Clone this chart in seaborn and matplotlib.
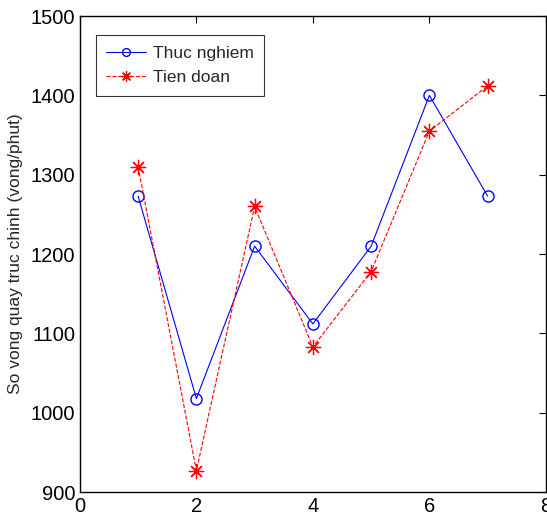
import numpy as np
import pandas as pd
import matplotlib
matplotlib.use("Agg")
import matplotlib.pyplot as plt
import seaborn as sns

x_vals = [1, 2, 3, 4, 5, 6, 7]
thuc_nghiem = [1273, 1018, 1210, 1112, 1210, 1400, 1273]
tien_doan = [1310, 927, 1260, 1083, 1178, 1355, 1412]
x_ticks = [0, 2, 4, 6, 8]
y_ticks = [900, 1000, 1100, 1200, 1300, 1400, 1500]

sns.set_style("white")
plt.rcParams['font.family'] = ['Liberation Sans', 'DejaVu Sans']

df = pd.DataFrame({'x': x_vals, 'Thuc nghiem': thuc_nghiem, 'Tien doan': tien_doan})

fig = plt.figure(figsize=(5.47, 5.17), dpi=100)
ax = fig.add_axes([0.146, 0.048, 0.852, 0.921])

sns.lineplot(data=df, x='x', y='Thuc nghiem', ax=ax, color='blue', linewidth=0.8,
             marker='o', markersize=8, markerfacecolor='none', markeredgecolor='blue',
             markeredgewidth=1.0, label='Thuc nghiem')
sns.lineplot(data=df, x='x', y='Tien doan', ax=ax, color='red', linewidth=0.8,
             linestyle='--', dashes=(3, 3), marker=(8, 2, 0), markersize=11,
             markeredgecolor='red', markeredgewidth=0.9, label='Tien doan')

ax.set_xlim(0, 8)
ax.set_ylim(900, 1500)
ax.set_xticks(x_ticks)
ax.set_yticks(y_ticks)
ax.tick_params(direction='in', top=True, right=True, length=5, width=0.8,
               labelsize=14.5, colors='black')
ax.set_xlabel('')
ax.set_ylabel('So vong quay truc chinh (vong/phut)', fontsize=12.5, labelpad=5)
for s in ax.spines.values():
    s.set_color('black')
    s.set_linewidth(1.0)

leg = ax.legend(loc='upper left', bbox_to_anchor=(0.034, 0.96), borderaxespad=0,
                fontsize=12.5, frameon=True, fancybox=False, edgecolor='black',
                handlelength=2.3, markerscale=0.7, borderpad=0.6,
                labelspacing=0.55, handletextpad=0.4)
leg.get_frame().set_linewidth(0.8)

fig.savefig('out.png', dpi=100)
